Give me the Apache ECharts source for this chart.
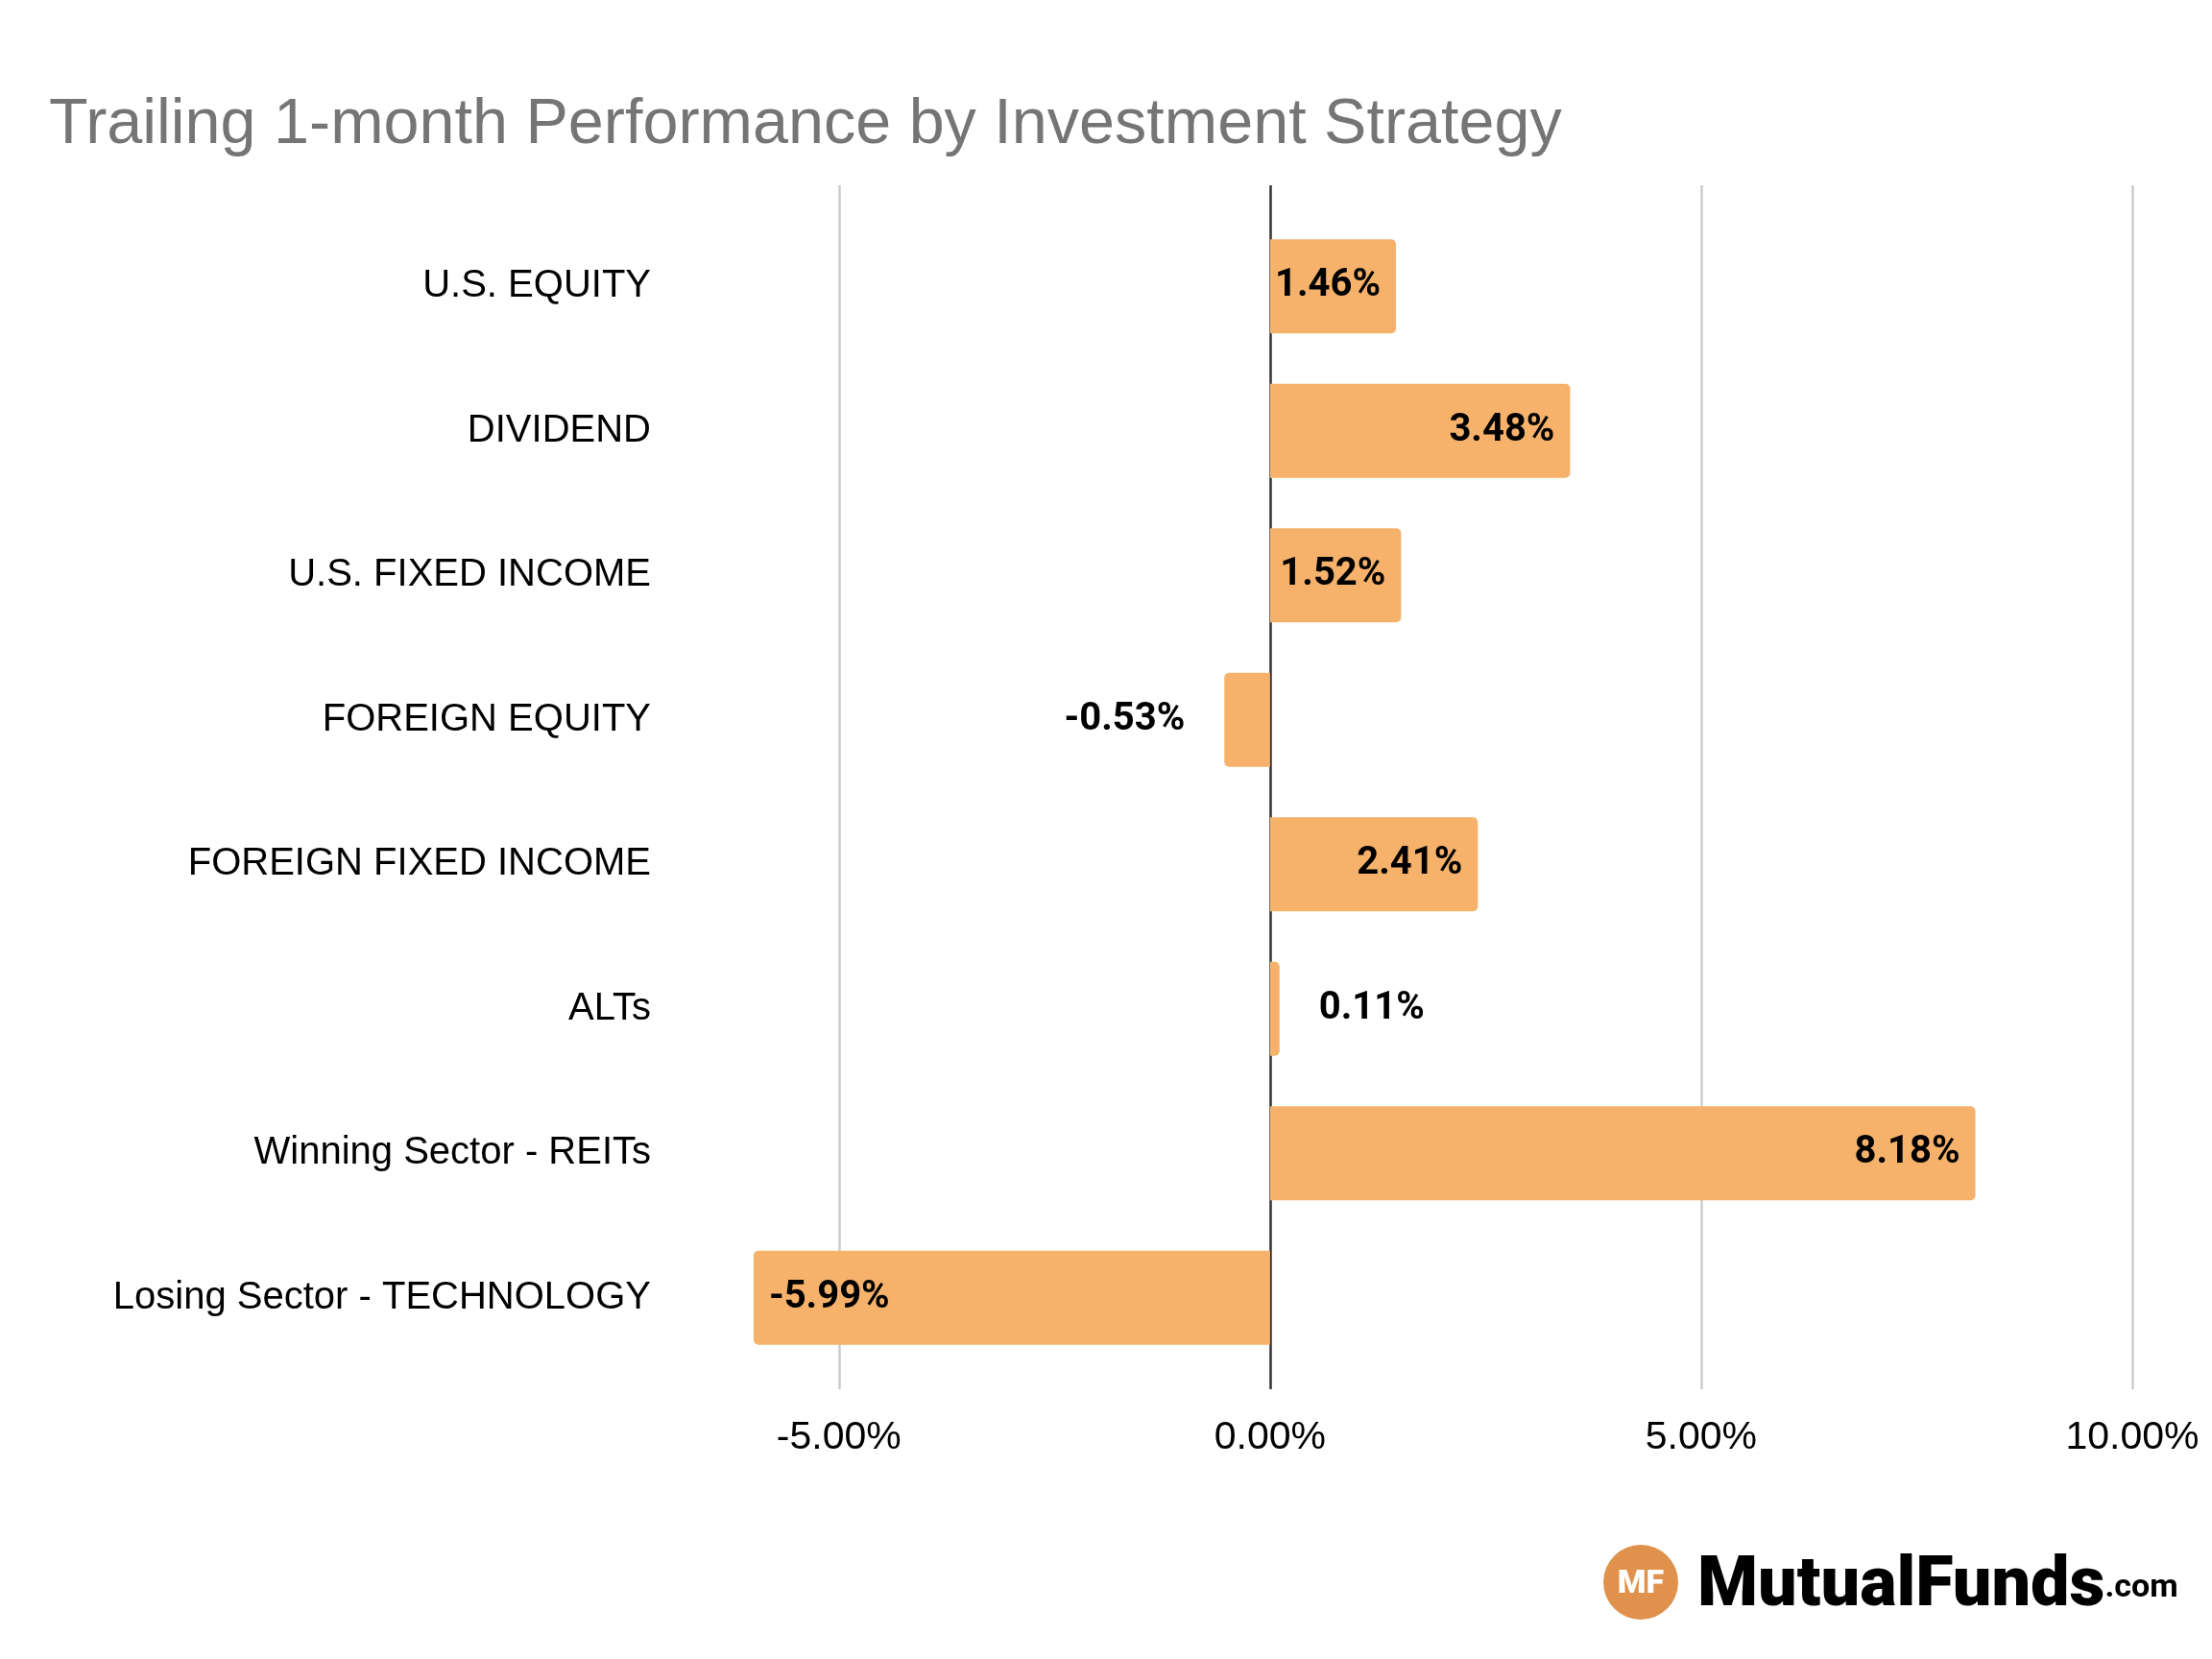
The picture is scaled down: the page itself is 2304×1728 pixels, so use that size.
<!DOCTYPE html>
<html>
<head>
<meta charset="utf-8">
<script src="https://cdn.jsdelivr.net/npm/echarts@6/dist/echarts.min.js"></script>
<style>
  html, body { margin: 0; padding: 0; background: #fff; }
  #chart { width: 2304px; height: 1728px; }
</style>
</head>
<body>
<div id="chart"></div>
<script>
const categories = [
  "U.S. EQUITY",
  "DIVIDEND",
  "U.S. FIXED INCOME",
  "FOREIGN EQUITY",
  "FOREIGN FIXED INCOME",
  "ALTs",
  "Winning Sector - REITs",
  "Losing Sector - TECHNOLOGY",
];
const values = [1.46, 3.48, 1.52, -0.53, 2.41, 0.11, 8.18, -5.99];
const tickValues = [-5, 0, 5, 10];

const chart = echarts.init(document.getElementById("chart"));

// small bars get their label outside, like the sheet chart
const barData = values.map(function (v) {
  let small = Math.abs(v) < 1;
  let pos = v >= 0 ? (small ? "right" : "insideRight") : (small ? "left" : "insideLeft");
  return {
    value: v,
    itemStyle: { borderRadius: v >= 0 ? [0, 5, 5, 0] : [5, 0, 0, 5] },
    label: { position: pos, distance: small ? 41 : 16 },
  };
});

const option = {
  backgroundColor: "#ffffff",
  title: {
    text: "Trailing 1-month Performance by Investment Strategy",
    left: 46,
    top: 92,
    textStyle: {
      fontFamily: "Liberation Sans",
      fontWeight: "normal",
      fontSize: 66.5,
      color: "#757575",
    },
  },
  grid: [
    { left: 784, right: 83, top: 223, height: 1204 },
    { left: 784, right: 83, top: 193, height: 1254 },
  ],
  xAxis: [
    {
      gridIndex: 0,
      type: "value",
      min: -6,
      max: 10,
      axisLine: { show: false },
      axisTick: { show: false },
      axisLabel: { show: false },
      splitLine: { show: false },
    },
    {
      gridIndex: 1,
      type: "value",
      min: -6,
      max: 10,
      axisLine: { show: false },
      axisTick: { show: false, customValues: tickValues },
      axisLabel: {
        customValues: tickValues,
        margin: 30,
        fontFamily: "Liberation Sans",
        fontSize: 41,
        color: "#000",
        formatter: function (v) {
          return v.toFixed(2) + "%";
        },
      },
      splitLine: {
        show: true,
        lineStyle: { color: ["#cccccc", "#333333", "#cccccc", "#cccccc"], width: 2.5 },
      },
    },
  ],
  yAxis: [
    {
      gridIndex: 0,
      type: "category",
      inverse: true,
      data: categories,
      axisLine: { show: false },
      axisTick: { show: false },
      axisLabel: {
        margin: 106,
        fontFamily: "Liberation Sans",
        fontSize: 40,
        color: "#000",
      },
    },
    {
      gridIndex: 1,
      type: "value",
      show: false,
      min: 0,
      max: 1,
    },
  ],
  series: [
    {
      type: "bar",
      xAxisIndex: 0,
      yAxisIndex: 0,
      data: barData,
      barWidth: 98,
      itemStyle: { color: "#f6b26b" },
      label: {
        show: true,
        fontFamily: "Roboto",
        fontWeight: "bold",
        fontSize: 40,
        color: "#000",
        formatter: function (p) {
          return p.value.toFixed(2) + "%";
        },
      },
      z: 3,
    },
  ],
  graphic: [
    {
      type: "circle",
      shape: { cx: 1709, cy: 1648, r: 39 },
      style: { fill: "#e0924d" },
    },
    {
      type: "text",
      x: 1709,
      y: 1650,
      style: {
        text: "MF",
        fill: "#fff",
        font: "900 34px Roboto",
        align: "center",
        verticalAlign: "middle",
      },
    },
    {
      type: "text",
      x: 1768,
      y: 1690,
      style: {
        text: "{a|MutualFunds}{b|.com}",
        verticalAlign: "bottom",
        rich: {
          a: { font: "900 72px Roboto", fill: "#000" },
          b: { font: "bold 34px Roboto", fill: "#000" },
        },
      },
    },
  ],
};

chart.setOption(option);
window.addEventListener("resize", function () {
  chart.resize();
});
</script>
</body>
</html>
